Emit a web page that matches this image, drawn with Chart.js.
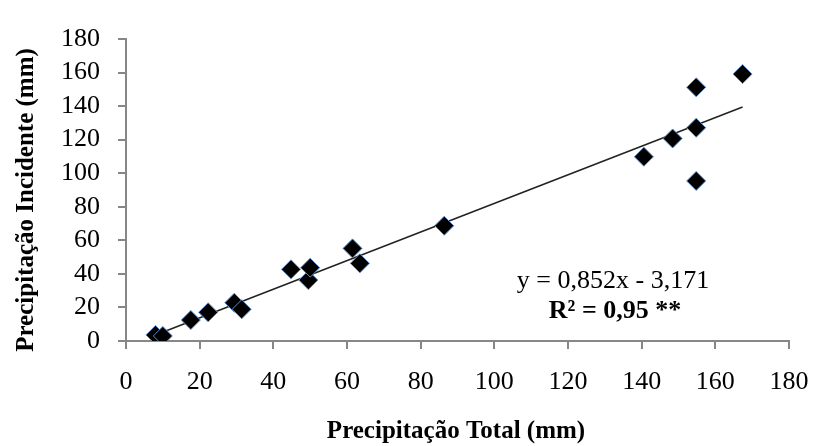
<!DOCTYPE html>
<html>
<head>
<meta charset="utf-8">
<script src="https://cdn.jsdelivr.net/npm/chart.js@4.4.0/dist/chart.umd.min.js"></script>
<style>
html,body{margin:0;padding:0;background:#fff;}
#wrap{width:814px;height:446px;}
</style>
</head>
<body>
<div id="wrap"><canvas id="c" width="814" height="446"></canvas></div>
<script>
// Data
const totalPrecip = [8, 10, 17.6, 22.3, 29.4, 31.4, 44.8, 49.5, 50, 61.5, 63.5, 86.4, 140.6, 148.4, 154.8, 154.8, 154.8, 167.4];
const incidentPrecip = [3.6, 3, 12.5, 17.1, 22.8, 18.9, 42.7, 36.3, 43.7, 55.2, 46.3, 68.7, 109.8, 120.7, 127.1, 151.2, 95.4, 159.1];
const trendX = [8, 167.4];
const trendY = [3.6, 139.5];
const axisTicks = [0, 20, 40, 60, 80, 100, 120, 140, 160, 180];
const xTitle = 'Precipitação Total (mm)';
const yTitle = 'Precipitação Incidente (mm)';
const eqLine1 = 'y = 0,852x - 3,171';
const eqLine2 = 'R² = 0,95 **';

const scatterPts = totalPrecip.map((x, i) => ({x: x, y: incidentPrecip[i]}));
const trendPts = trendX.map((x, i) => ({x: x, y: trendY[i]}));

const FONT = "'Liberation Serif', 'Times New Roman', serif";
const AXIS_COLOR = '#878787';

const textPlugin = {
  id: 'texts',
  afterDraw(chart) {
    const ctx = chart.ctx;
    ctx.save();
    ctx.fillStyle = '#000';
    ctx.textAlign = 'center';
    ctx.textBaseline = 'middle';
    ctx.font = "bold 25px " + FONT;
    ctx.fillText(xTitle, 456, 432);
    ctx.save();
    ctx.translate(27, 200);
    ctx.rotate(-Math.PI / 2);
    ctx.fillText(yTitle, 0, 0);
    ctx.restore();
    ctx.font = "26px " + FONT;
    ctx.fillText(eqLine1, 613, 281);
    ctx.font = "bold 26px " + FONT;
    ctx.fillText(eqLine2, 615, 311);
    ctx.restore();
  }
};

new Chart(document.getElementById('c'), {
  type: 'scatter',
  data: {
    datasets: [
      {
        label: 'obs',
        data: scatterPts,
        pointStyle: 'rectRot',
        pointRadius: 9.5,
        pointHoverRadius: 9.5,
        backgroundColor: '#000000',
        borderColor: '#5b8cc8',
        borderWidth: 1,
        order: 1
      },
      {
        label: 'trend',
        type: 'line',
        data: trendPts,
        borderColor: '#222222',
        borderWidth: 1.5,
        pointRadius: 0,
        fill: false,
        order: 2
      }
    ]
  },
  options: {
    responsive: false,
    animation: false,
    devicePixelRatio: 1,
    layout: {padding: {top: 39, right: 25, left: 0, bottom: 0}},
    plugins: {legend: {display: false}, tooltip: {enabled: false}},
    scales: {
      x: {
        type: 'linear',
        min: 0, max: 180,
        afterBuildTicks(scale) { scale.ticks = axisTicks.map(v => ({value: v})); },
        afterFit(scale) { scale.height = 105; scale.paddingLeft = 0; scale.paddingRight = 0; },
        grid: {drawOnChartArea: false, drawTicks: true, tickLength: 8, color: AXIS_COLOR, lineWidth: 2},
        border: {display: true, color: AXIS_COLOR, width: 2},
        ticks: {color: '#000', font: {family: FONT, size: 26}, padding: 18, maxRotation: 0, autoSkip: false}
      },
      y: {
        type: 'linear',
        min: 0, max: 180,
        afterBuildTicks(scale) { scale.ticks = axisTicks.map(v => ({value: v})); },
        afterFit(scale) { scale.width = 126; scale.paddingTop = 0; scale.paddingBottom = 0; },
        grid: {drawOnChartArea: false, drawTicks: true, tickLength: 8, color: AXIS_COLOR, lineWidth: 2},
        border: {display: true, color: AXIS_COLOR, width: 2},
        ticks: {color: '#000', font: {family: FONT, size: 26}, padding: 18, autoSkip: false}
      }
    }
  },
  plugins: [textPlugin]
});
</script>
</body>
</html>
